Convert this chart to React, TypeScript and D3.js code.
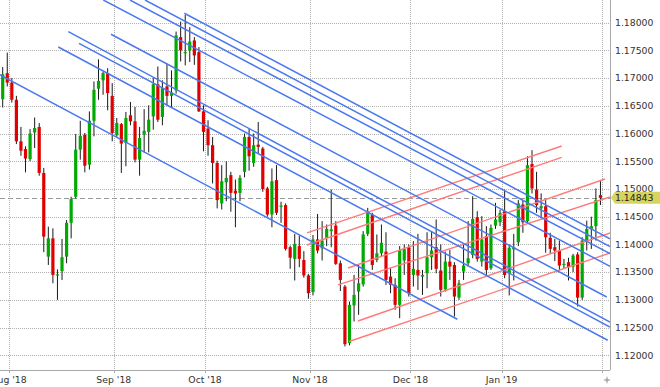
import React from 'react';
import * as d3 from 'd3';

const dates = [
  '2018-07-30','2018-07-31',
  '2018-08-01','2018-08-02','2018-08-03','2018-08-06','2018-08-07','2018-08-08','2018-08-09','2018-08-10',
  '2018-08-13','2018-08-14','2018-08-15','2018-08-16','2018-08-17','2018-08-20','2018-08-21','2018-08-22',
  '2018-08-23','2018-08-24','2018-08-27','2018-08-28','2018-08-29','2018-08-30','2018-08-31',
  '2018-09-03','2018-09-04','2018-09-05','2018-09-06','2018-09-07','2018-09-10','2018-09-11','2018-09-12',
  '2018-09-13','2018-09-14','2018-09-17','2018-09-18','2018-09-19','2018-09-20','2018-09-21','2018-09-24',
  '2018-09-25','2018-09-26','2018-09-27','2018-09-28',
  '2018-10-01','2018-10-02','2018-10-03','2018-10-04','2018-10-05','2018-10-08','2018-10-09','2018-10-10',
  '2018-10-11','2018-10-12','2018-10-15','2018-10-16','2018-10-17','2018-10-18','2018-10-19','2018-10-22',
  '2018-10-23','2018-10-24','2018-10-25','2018-10-26','2018-10-29','2018-10-30','2018-10-31',
  '2018-11-01','2018-11-02','2018-11-05','2018-11-06','2018-11-07','2018-11-08','2018-11-09','2018-11-12',
  '2018-11-13','2018-11-14','2018-11-15','2018-11-16','2018-11-19','2018-11-20','2018-11-21','2018-11-22',
  '2018-11-23','2018-11-26','2018-11-27','2018-11-28','2018-11-29','2018-11-30',
  '2018-12-03','2018-12-04','2018-12-05','2018-12-06','2018-12-07','2018-12-10','2018-12-11','2018-12-12',
  '2018-12-13','2018-12-14','2018-12-17','2018-12-18','2018-12-19','2018-12-20','2018-12-21','2018-12-24',
  '2018-12-26','2018-12-27','2018-12-28','2018-12-31',
  '2019-01-02','2019-01-03','2019-01-04','2019-01-07','2019-01-08','2019-01-09','2019-01-10','2019-01-11',
  '2019-01-14','2019-01-15','2019-01-16','2019-01-17','2019-01-18','2019-01-21','2019-01-22','2019-01-23',
  '2019-01-24','2019-01-25','2019-01-28','2019-01-29','2019-01-30','2019-01-31',
];

const opens = [
  1.1662,1.1709,
  1.1692,1.1661,1.1586,1.1572,1.1554,1.1602,1.1612,1.1529,1.1378,1.1411,1.1344,1.1352,1.1378,1.1439,1.1486,1.1571,1.1598,1.1544,1.1623,1.1681,1.1696,1.1709,1.1668,
  1.1597,1.1617,1.1583,1.1633,1.1622,1.1553,1.1598,1.1603,1.1631,1.1689,1.1630,1.1685,1.1668,1.1678,1.1774,1.1745,1.1750,1.1768,1.1747,1.1640,
  1.1609,1.1579,1.1547,1.1474,1.1512,1.1525,1.1497,1.1493,1.1531,1.1594,1.1547,1.1580,1.1573,1.1501,1.1454,1.1516,1.1468,1.1471,1.1395,1.1374,1.1397,1.1372,1.1344,
  1.1314,1.1409,1.1393,1.1412,1.1424,1.1434,1.1366,1.1324,1.1222,1.1290,1.1315,1.1328,1.1419,1.1454,1.1372,1.1384,1.1387,1.1342,1.1327,1.1291,1.1371,1.1395,
  1.1345,1.1354,1.1342,1.1348,1.1377,1.1395,1.1353,1.1319,1.1369,1.1363,1.1304,1.1351,1.1366,1.1381,1.1449,1.1369,1.1415,1.1357,1.1434,1.1440,
  1.1460,1.1348,1.1391,1.1404,1.1472,1.1442,1.1545,1.1499,1.1465,1.1469,1.1412,1.1395,1.1389,1.1363,1.1368,1.1360,1.1382,1.1304,1.1407,1.1427,1.1433,1.1489,
];

const highs = [
  1.1720,1.1746,
  1.1700,1.1668,1.1612,1.1577,1.1608,1.1629,1.1619,1.1538,1.1432,1.1429,1.1355,1.1410,1.1444,1.1486,1.1599,1.1623,1.1601,1.1640,1.1694,1.1734,1.1712,1.1718,1.1691,
  1.1628,1.1619,1.1639,1.1657,1.1648,1.1612,1.1644,1.1651,1.1700,1.1721,1.1696,1.1726,1.1714,1.1784,1.1802,1.1814,1.1792,1.1774,1.1756,1.1651,
  1.1624,1.1594,1.1551,1.1543,1.1550,1.1531,1.1517,1.1525,1.1600,1.1609,1.1600,1.1621,1.1576,1.1504,1.1537,1.1543,1.1477,1.1474,1.1398,1.1419,1.1416,1.1388,1.1347,
  1.1417,1.1455,1.1442,1.1436,1.1499,1.1442,1.1371,1.1327,1.1297,1.1345,1.1363,1.1424,1.1466,1.1457,1.1418,1.1436,1.1422,1.1357,1.1339,1.1397,1.1400,1.1400,
  1.1406,1.1419,1.1354,1.1422,1.1424,1.1445,1.1400,1.1387,1.1390,1.1368,1.1336,1.1400,1.1442,1.1487,1.1460,1.1451,1.1433,1.1436,1.1475,1.1463,
  1.1499,1.1400,1.1419,1.1480,1.1480,1.1559,1.1570,1.1531,1.1492,1.1480,1.1421,1.1410,1.1407,1.1374,1.1376,1.1383,1.1386,1.1413,1.1443,1.1450,1.1501,1.1516,
];

const lows = [
  1.1647,1.1685,
  1.1656,1.1581,1.1560,1.1530,1.1550,1.1574,1.1524,1.1386,1.1363,1.1330,1.1300,1.1336,1.1366,1.1411,1.1483,1.1553,1.1530,1.1535,1.1595,1.1661,1.1670,1.1642,1.1586,
  1.1594,1.1529,1.1541,1.1615,1.1548,1.1524,1.1566,1.1566,1.1607,1.1621,1.1615,1.1651,1.1648,1.1672,1.1730,1.1723,1.1729,1.1724,1.1639,1.1568,
  1.1560,1.1510,1.1465,1.1463,1.1478,1.1459,1.1431,1.1478,1.1521,1.1533,1.1540,1.1564,1.1495,1.1450,1.1431,1.1453,1.1439,1.1389,1.1356,1.1335,1.1359,1.1340,1.1302,
  1.1308,1.1384,1.1371,1.1397,1.1395,1.1363,1.1316,1.1216,1.1218,1.1261,1.1273,1.1324,1.1415,1.1354,1.1368,1.1378,1.1327,1.1312,1.1282,1.1267,1.1345,1.1306,
  1.1324,1.1318,1.1309,1.1321,1.1354,1.1348,1.1306,1.1315,1.1336,1.1270,1.1300,1.1336,1.1360,1.1375,1.1369,1.1360,1.1345,1.1354,1.1428,1.1433,
  1.1339,1.1308,1.1335,1.1397,1.1421,1.1437,1.1492,1.1457,1.1447,1.1385,1.1383,1.1370,1.1353,1.1356,1.1335,1.1350,1.1288,1.1300,1.1389,1.1392,1.1407,1.1471,
];

const closes = [
  1.1707,1.1692,
  1.1661,1.1586,1.1569,1.1555,1.1600,1.1610,1.1529,1.1414,1.1411,1.1345,1.1346,1.1377,1.1439,1.1482,1.1571,1.1596,1.1542,1.1623,1.1679,1.1695,1.1709,1.1673,1.1601,
  1.1619,1.1582,1.1628,1.1622,1.1553,1.1592,1.1605,1.1625,1.1689,1.1625,1.1682,1.1668,1.1674,1.1777,1.1750,1.1747,1.1766,1.1741,1.1640,1.1603,
  1.1579,1.1547,1.1480,1.1514,1.1520,1.1493,1.1492,1.1520,1.1594,1.1559,1.1579,1.1576,1.1500,1.1454,1.1514,1.1457,1.1470,1.1392,1.1376,1.1401,1.1374,1.1344,1.1312,
  1.1409,1.1389,1.1407,1.1428,1.1427,1.1365,1.1336,1.1220,1.1291,1.1309,1.1330,1.1418,1.1460,1.1363,1.1384,1.1403,1.1336,1.1327,1.1291,1.1390,1.1392,1.1312,
  1.1356,1.1344,1.1345,1.1377,1.1389,1.1356,1.1318,1.1369,1.1360,1.1306,1.1330,1.1362,1.1375,1.1446,1.1374,1.1409,1.1354,1.1430,1.1445,1.1457,
  1.1345,1.1394,1.1395,1.1474,1.1440,1.1543,1.1501,1.1471,1.1469,1.1413,1.1392,1.1389,1.1362,1.1365,1.1359,1.1380,1.1304,1.1407,1.1428,1.1433,1.1480,1.1484,
];

const priceTicks = [1.12, 1.125, 1.13, 1.135, 1.14, 1.145, 1.15, 1.155, 1.16, 1.165, 1.17, 1.175, 1.18];
const monthLabels = ["Aug '18", "Sep '18", "Oct '18", "Nov '18", "Dec '18", "Jan '19", ""];
const lastPrice = 1.14843;

// trend lines: [startIndex, startPrice, endIndex, endPrice]
const blueLines = [
  [-1.0, 1.17075, 99.63, 1.1265],
  [12.18, 1.17562, 132.59, 1.12271],
  [14.38, 1.17838, 133.09, 1.12601],
  [16.72, 1.17628, 133.09, 1.12511],
  [23.73, 1.17791, 132.37, 1.13052],
  [22.05, 1.18409, 133.09, 1.13606],
  [27.9, 1.18409, 133.09, 1.13833],
  [31.19, 1.18409, 133.09, 1.13963],
  [39.8, 1.1817, 133.09, 1.1410],
];
const redLines = [
  [66.69, 1.14207, 122.51, 1.15776],
  [66.69, 1.1399, 122.51, 1.15572],
  [75.67, 1.13575, 131.99, 1.15181],
  [73.48, 1.13269, 133.09, 1.14856],
  [77.87, 1.12619, 133.09, 1.14207],
  [75.89, 1.12249, 133.09, 1.13846],
];

const W = 660, H = 387;
const plotRight = 610, plotBottom = 370;
const FONT = 'DejaVu Sans, sans-serif';

export default function App() {
  const x = d3.scaleLinear().domain([0, dates.length - 1]).range([2.7, 2.7 + (dates.length - 1) * 4.563]);
  const y = d3.scaleLinear().domain([1.12, 1.18]).range([355.3, 22.7]);

  const monthIdx: number[] = [];
  dates.forEach((d, i) => {
    if (i > 0 && d.slice(0, 7) !== dates[i - 1].slice(0, 7)) monthIdx.push(i);
  });
  monthIdx.push(dates.length);
  const tickX = (i: number) => x(i - 0.65);

  const green = '#00aa00', red = '#e00000';
  const bw = 3.2;

  return (
    <svg width={W} height={H} style={{ position: 'absolute', left: 0, top: 0, background: '#fff' }}>
      <defs>
        <clipPath id="plot"><rect x={0} y={0} width={plotRight} height={plotBottom} /></clipPath>
      </defs>
      <rect x={0} y={0} width={W} height={H} fill="#fff" />
      <g stroke="#b0b0b0" strokeWidth={1} strokeDasharray="1,1" shapeRendering="crispEdges">
        {priceTicks.map((p) => (
          <line key={'h' + p} x1={0} x2={plotRight} y1={Math.round(y(p)) + 0.5} y2={Math.round(y(p)) + 0.5} />
        ))}
        {monthIdx.map((i) => (
          <line key={'v' + i} x1={Math.round(tickX(i)) + 0.5} x2={Math.round(tickX(i)) + 0.5} y1={0} y2={plotBottom} />
        ))}
      </g>
      <line x1={0} x2={plotRight} y1={Math.round(y(lastPrice)) + 0.5} y2={Math.round(y(lastPrice)) + 0.5}
        stroke="#999" strokeWidth={1} strokeDasharray="5,3" shapeRendering="crispEdges" />
      <g clipPath="url(#plot)">
        {dates.map((d, i) => {
          const o = opens[i], c = closes[i], h = highs[i], l = lows[i];
          const up = c >= o;
          const top = y(Math.max(o, c));
          const bh = Math.max(1.2, Math.abs(y(o) - y(c)));
          return (
            <g key={d}>
              <line x1={x(i)} x2={x(i)} y1={y(h)} y2={y(l)} stroke="#1a1a1a" strokeWidth={1} />
              <rect x={x(i) - bw / 2} y={top} width={bw} height={bh} fill={up ? green : red} />
            </g>
          );
        })}
      </g>
      <g clipPath="url(#plot)" fill="none">
        {redLines.map((l, k) => (
          <line key={'r' + k} x1={x(l[0])} y1={y(l[1])} x2={x(l[2])} y2={y(l[3])} stroke="#ff7b7b" strokeWidth={1.4} />
        ))}
        {blueLines.map((l, k) => (
          <line key={'b' + k} x1={x(l[0])} y1={y(l[1])} x2={x(l[2])} y2={y(l[3])} stroke="#4a78f0" strokeWidth={1.5} />
        ))}
      </g>
      <line x1={plotRight + 0.5} x2={plotRight + 0.5} y1={0} y2={plotBottom} stroke="#a8a8a8" strokeWidth={1} shapeRendering="crispEdges" />
      <line x1={0} x2={plotRight} y1={plotBottom + 0.5} y2={plotBottom + 0.5} stroke="#a8a8a8" strokeWidth={1} shapeRendering="crispEdges" />
      {monthIdx.map((i) => (
        <line key={'t' + i} x1={Math.round(tickX(i)) + 0.5} x2={Math.round(tickX(i)) + 0.5} y1={plotBottom} y2={plotBottom + 3}
          stroke="#a8a8a8" shapeRendering="crispEdges" />
      ))}
      <g fontFamily={FONT} fontSize={9.3} fill="#333">
        {priceTicks.map((p) => (
          <text key={'yl' + p} x={615} y={y(p)} dy="0.35em">{d3.format('.5f')(p)}</text>
        ))}
        {monthIdx.map((i, k) => monthLabels[k] ? (
          <text key={'xl' + i} x={tickX(i)} y={383} textAnchor="middle">{monthLabels[k]}</text>
        ) : null)}
      </g>
      <g>
        <path d={`M${plotRight + 1},${y(lastPrice)} L${plotRight + 5},${y(lastPrice) - 6} L${W},${y(lastPrice) - 6} L${W},${y(lastPrice) + 6} L${plotRight + 5},${y(lastPrice) + 6} Z`}
          fill="#d6d35f" />
        <text x={615} y={y(lastPrice)} dy="0.35em" fontFamily={FONT} fontSize={9.3} fill="#222">{d3.format('.5f')(lastPrice)}</text>
      </g>
      <path d="M607,376 L608,379 L611,380 L608,381 L607,384 L606,381 L603,380 L606,379 Z" fill="#aaa" />
    </svg>
  );
}
